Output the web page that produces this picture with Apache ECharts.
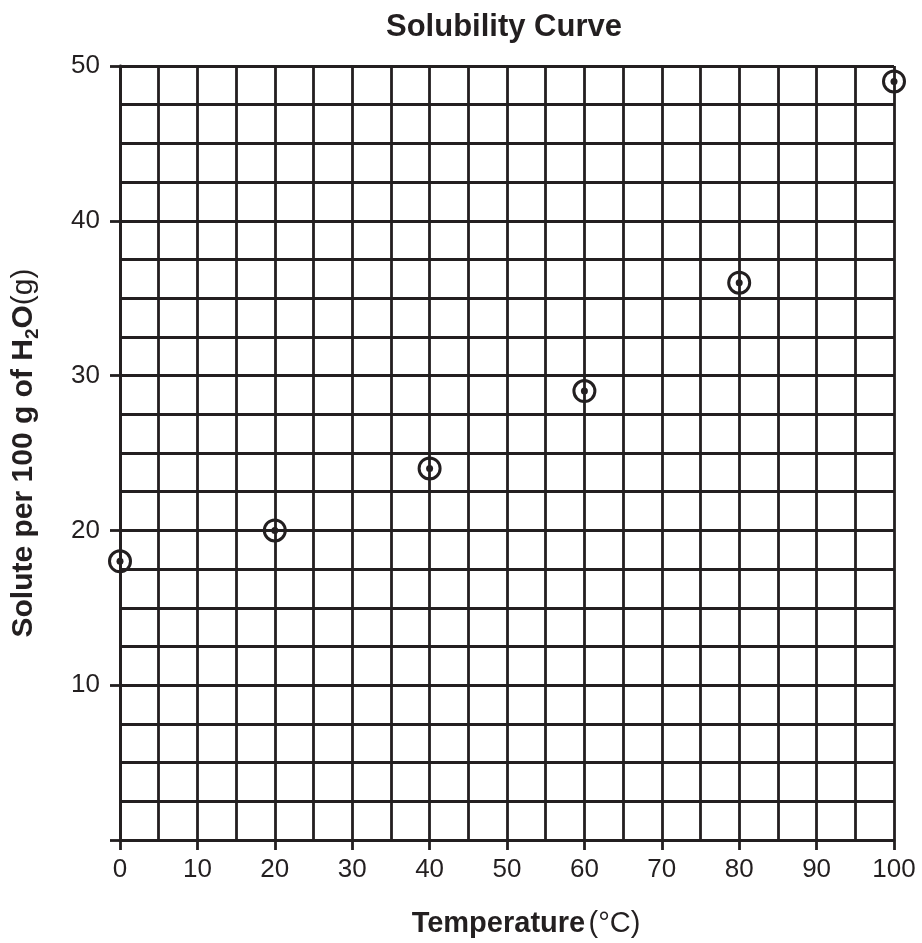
<!DOCTYPE html>
<html>
<head>
<meta charset="utf-8">
<script src="https://cdn.jsdelivr.net/npm/echarts@6/dist/echarts.min.js"></script>
<style>
  html, body { margin: 0; padding: 0; background: #fff; }
  #chart { width: 922px; height: 943px; }
</style>
</head>
<body>
<div id="chart"></div>
<script>
// temperature (°C) and solute per 100 g of water (g)
const temps = [0, 20, 40, 60, 80, 100];
const solute = [18, 20, 24, 29, 36, 49];

const ink = '#231f20';
const fontFamily = 'Liberation Sans, Arial, Helvetica, sans-serif';

const points = temps.map((t, i) => [t, solute[i]]);

const chart = echarts.init(document.getElementById('chart'));

const gridLine = { show: true, lineStyle: { color: ink, width: 2.8 } };

chart.setOption({
  animation: false,
  backgroundColor: '#fff',
  title: {
    text: 'Solubility Curve',
    left: 386,
    top: 7,
    padding: [5, 0, 5, 0],
    textStyle: { fontFamily, fontWeight: 'bold', fontSize: 31, color: ink }
  },
  grid: { left: 120, right: 28, top: 66, bottom: 103, containLabel: false, outerBoundsMode: 'none' },
  xAxis: {
    type: 'value',
    min: 0,
    max: 100,
    interval: 10,
    name: '{b|Temperature} {n|(°C)}',
    nameLocation: 'middle',
    nameGap: 69,
    nameMoveOverlap: false,
    nameTextStyle: {
      padding: [0, 0, 0, 38],
      rich: {
        b: { fontFamily, fontWeight: 'bold', fontSize: 29, color: ink },
        n: { fontFamily, fontSize: 29, color: ink }
      }
    },
    axisLine: { show: true, lineStyle: { color: ink, width: 2.8 } },
    axisTick: { show: true, length: 10, lineStyle: { color: ink, width: 2.8 } },
    axisLabel: { fontFamily, fontSize: 26, color: ink, margin: 17 },
    splitLine: gridLine,
    minorTick: { show: false, splitNumber: 2 },
    minorSplitLine: gridLine
  },
  yAxis: {
    type: 'value',
    min: 0,
    max: 50,
    interval: 10,
    name: '{b|Solute per 100 g of H}{s|2}{b|O}{n|(g)}',
    nameLocation: 'middle',
    nameGap: 78,
    nameRotate: 90,
    nameMoveOverlap: false,
    nameTextStyle: {
      rich: {
        b: { fontFamily, fontWeight: 'bold', fontSize: 30, color: ink, lineHeight: 36 },
        s: { fontFamily, fontWeight: 'bold', fontSize: 19, color: ink, lineHeight: 36, verticalAlign: 'bottom' },
        n: { fontFamily, fontSize: 30, color: ink, lineHeight: 36 }
      }
    },
    axisLine: { show: true, lineStyle: { color: ink, width: 2.8 } },
    axisTick: { show: true, length: 10, lineStyle: { color: ink, width: 2.8 } },
    axisLabel: {
      fontFamily, fontSize: 26, color: ink, margin: 20,
      formatter: v => (v === 0 ? '' : String(v))
    },
    splitLine: gridLine,
    minorTick: { show: false, splitNumber: 4 },
    minorSplitLine: gridLine
  },
  series: [
    {
      type: 'scatter',
      data: points,
      symbol: 'circle',
      symbolSize: 21,
      itemStyle: { color: 'rgba(0,0,0,0)', borderColor: ink, borderWidth: 3, opacity: 1 },
      z: 3
    },
    {
      type: 'scatter',
      data: points,
      symbol: 'circle',
      symbolSize: 7,
      itemStyle: { color: ink, opacity: 1 },
      z: 4
    }
  ]
});
</script>
</body>
</html>
